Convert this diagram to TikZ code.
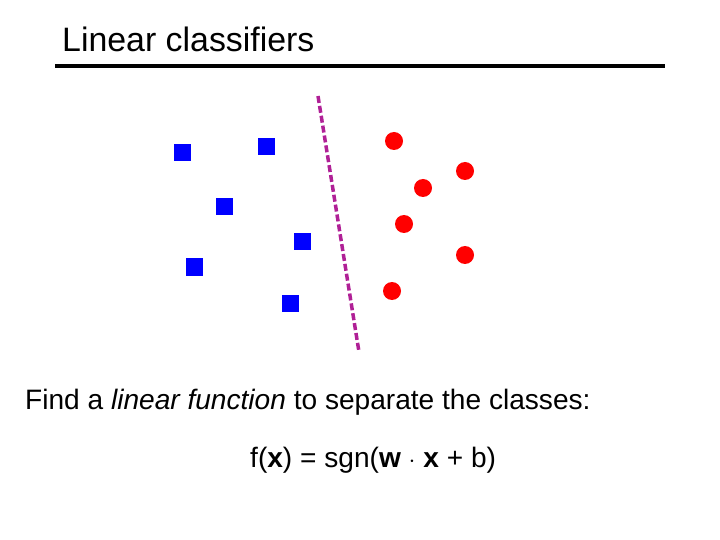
\documentclass[tikz,border=0pt]{standalone}
\usepackage{fontspec}
\setmainfont{Liberation Sans}
\begin{document}
\begin{tikzpicture}[x=1bp,y=-1bp,
  sq/.style={fill=blue,draw=none,minimum size=17bp,inner sep=0pt},
  dot/.style={circle,fill=red,draw=none,minimum size=18bp,inner sep=0pt}]
\useasboundingbox (0,0) rectangle (720,540);
\node[anchor=base west,inner sep=0pt,font=\fontsize{34}{38}\selectfont] (title) at (62,52) {Linear classifiers};
\coordinate (u1) at (55,66); \coordinate (u2) at (665,66);
\draw[line width=3.5bp] (u1) -- (u2);
\foreach \n/\x/\y in {a/182/153,b/266/147,c/224/207,d/302/242,e/194/267,f/290/303}
  \node[sq] (\n) at (\x,\y) {};
\foreach \n/\x/\y in {p/394/141,q/465/171,r/423/188,s/404/224,t/465/255,v/392/291}
  \node[dot] (\n) at (\x,\y) {};
\coordinate (l1) at (318,96); \coordinate (l2) at (359,352);
\draw[color={rgb,255:red,176;green,32;blue,150},line width=3.5bp,dash pattern=on 7bp off 3bp] (l1) -- (l2);
\node[anchor=base west,inner sep=0pt,font=\fontsize{28.2}{32}\selectfont] (txt) at (25,409) {Find a \emph{linear function} to separate the classes:};
\node[anchor=base west,inner sep=0pt,font=\fontsize{28.2}{32}\selectfont] (eq) at (250,467) {f(\textbf{x}) = sgn(\textbf{w} $\cdot$ \textbf{x} + b)};
\end{tikzpicture}
\end{document}
